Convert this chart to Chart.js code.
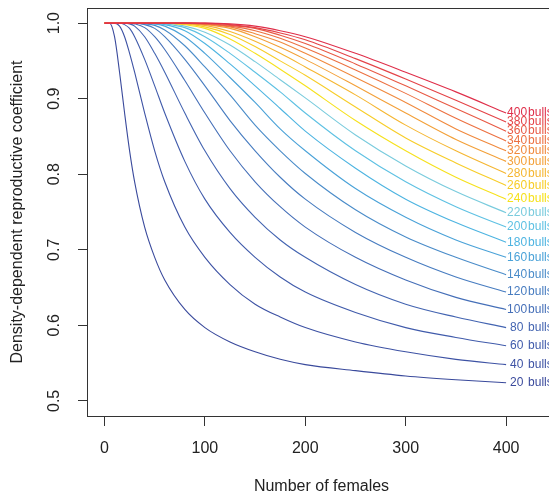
<!DOCTYPE html>
<html>
<head>
<meta charset="utf-8">
<script src="https://cdn.jsdelivr.net/npm/chart.js@4"></script>
<style>
  html, body { margin: 0; padding: 0; overflow: hidden; background: #fff; }
  canvas { display: block; }
</style>
</head>
<body>
<canvas id="graf_bulls" width="556" height="497"></canvas>
<script>
// Numero de hembras (eje x)
var females = [0, 5, 10, 15, 20, 25, 30, 40, 50, 60, 80, 100, 125, 150, 175, 200, 250, 300, 350, 400];

// Coeficiente para cada numero de toros
var coef20  = [1.000, 1.000, 0.982, 0.935, 0.881, 0.831, 0.790, 0.730, 0.690, 0.660, 0.621, 0.597, 0.578, 0.565, 0.555, 0.548, 0.540, 0.533, 0.528, 0.524];
var coef40  = [1.000, 1.000, 1.000, 0.996, 0.982, 0.960, 0.935, 0.881, 0.831, 0.790, 0.730, 0.690, 0.654, 0.628, 0.611, 0.597, 0.578, 0.565, 0.555, 0.548];
var coef60  = [1.000, 1.000, 1.000, 1.000, 0.998, 0.993, 0.982, 0.952, 0.917, 0.881, 0.817, 0.767, 0.723, 0.690, 0.664, 0.644, 0.617, 0.597, 0.584, 0.573];
var coef80  = [1.000, 1.000, 1.000, 1.000, 1.000, 0.999, 0.996, 0.982, 0.960, 0.935, 0.881, 0.831, 0.781, 0.743, 0.713, 0.690, 0.654, 0.628, 0.611, 0.597];
var coef100 = [1.000, 1.000, 1.000, 1.000, 1.000, 1.000, 0.999, 0.994, 0.982, 0.965, 0.924, 0.881, 0.831, 0.790, 0.757, 0.730, 0.690, 0.660, 0.637, 0.621];
var coef120 = [1.000, 1.000, 1.000, 1.000, 1.000, 1.000, 1.000, 0.998, 0.993, 0.982, 0.952, 0.917, 0.871, 0.831, 0.796, 0.767, 0.723, 0.690, 0.664, 0.644];
var coef140 = [1.000, 1.000, 1.000, 1.000, 1.000, 1.000, 1.000, 0.999, 0.997, 0.991, 0.970, 0.942, 0.905, 0.865, 0.831, 0.801, 0.753, 0.717, 0.690, 0.667];
var coef160 = [1.000, 1.000, 1.000, 1.000, 1.000, 1.000, 1.000, 1.000, 0.999, 0.996, 0.982, 0.960, 0.928, 0.895, 0.860, 0.831, 0.781, 0.743, 0.713, 0.690];
var coef180 = [1.000, 1.000, 1.000, 1.000, 1.000, 1.000, 1.000, 1.000, 0.999, 0.998, 0.990, 0.973, 0.946, 0.917, 0.887, 0.857, 0.808, 0.767, 0.736, 0.710];
var coef200 = [1.000, 1.000, 1.000, 1.000, 1.000, 1.000, 1.000, 1.000, 1.000, 0.999, 0.994, 0.982, 0.960, 0.935, 0.909, 0.881, 0.831, 0.790, 0.757, 0.730];
var coef220 = [1.000, 1.000, 1.000, 1.000, 1.000, 1.000, 1.000, 1.000, 1.000, 1.000, 0.996, 0.988, 0.971, 0.949, 0.925, 0.901, 0.852, 0.811, 0.777, 0.749];
var coef240 = [1.000, 1.000, 1.000, 1.000, 1.000, 1.000, 1.000, 1.000, 1.000, 1.000, 0.998, 0.993, 0.979, 0.960, 0.939, 0.917, 0.871, 0.831, 0.796, 0.767];
var coef260 = [1.000, 1.000, 1.000, 1.000, 1.000, 1.000, 1.000, 1.000, 1.000, 1.000, 0.999, 0.995, 0.985, 0.969, 0.950, 0.931, 0.889, 0.848, 0.815, 0.785];
var coef280 = [1.000, 1.000, 1.000, 1.000, 1.000, 1.000, 1.000, 1.000, 1.000, 1.000, 0.999, 0.997, 0.989, 0.976, 0.960, 0.942, 0.905, 0.865, 0.831, 0.801];
var coef300 = [1.000, 1.000, 1.000, 1.000, 1.000, 1.000, 1.000, 1.000, 1.000, 1.000, 1.000, 0.998, 0.993, 0.982, 0.968, 0.952, 0.917, 0.881, 0.846, 0.817];
var coef320 = [1.000, 1.000, 1.000, 1.000, 1.000, 1.000, 1.000, 1.000, 1.000, 1.000, 1.000, 0.999, 0.995, 0.986, 0.975, 0.960, 0.928, 0.895, 0.860, 0.831];
var coef340 = [1.000, 1.000, 1.000, 1.000, 1.000, 1.000, 1.000, 1.000, 1.000, 1.000, 1.000, 0.999, 0.996, 0.990, 0.980, 0.967, 0.938, 0.907, 0.874, 0.844];
var coef360 = [1.000, 1.000, 1.000, 1.000, 1.000, 1.000, 1.000, 1.000, 1.000, 1.000, 1.000, 0.999, 0.997, 0.993, 0.984, 0.973, 0.946, 0.917, 0.887, 0.857];
var coef380 = [1.000, 1.000, 1.000, 1.000, 1.000, 1.000, 1.000, 1.000, 1.000, 1.000, 1.000, 1.000, 0.998, 0.994, 0.987, 0.978, 0.953, 0.926, 0.898, 0.869];
var coef400 = [1.000, 1.000, 1.000, 1.000, 1.000, 1.000, 1.000, 1.000, 1.000, 1.000, 1.000, 1.000, 0.999, 0.996, 0.990, 0.982, 0.960, 0.935, 0.909, 0.881];

var bulls = [20, 40, 60, 80, 100, 120, 140, 160, 180, 200, 220, 240, 260, 280, 300, 320, 340, 360, 380, 400];
var coefs = [coef20, coef40, coef60, coef80, coef100, coef120, coef140, coef160, coef180, coef200,
             coef220, coef240, coef260, coef280, coef300, coef320, coef340, coef360, coef380, coef400];
var lineColors = ['#3a4a9c', '#3d52a4', '#405bab', '#4364b1', '#456fb8', '#477cc0', '#4a8cc9', '#4aa2d8', '#4db4e1', '#5ec1e3',
                  '#79cbdd', '#f6e11c', '#f7cd28', '#f5b631', '#f3a038', '#f0893d', '#ec7041', '#e85944', '#e44347', '#df2e49'];

var xTicks = [0, 100, 200, 300, 400];
var yTicks = [0.5, 0.6, 0.7, 0.8, 0.9, 1.0];

// Armar los datasets (el rojo queda encima)
var datasets = bulls.map(function (b, i) {
  return {
    label: b + ' bulls',
    data: females.map(function (f, j) { return { x: f, y: coefs[i][j] }; }),
    borderColor: lineColors[i],
    borderWidth: 1.1,
    pointRadius: 0,
    fill: false,
    cubicInterpolationMode: 'monotone',
    order: bulls.length - i
  };
});

// Marco de arriba y etiquetas al final de cada curva
var endLabels = {
  id: 'endLabels',
  afterDatasetsDraw: function (chart) {
    var ctx = chart.ctx;
    var area = chart.chartArea;
    ctx.save();
    ctx.strokeStyle = '#333';
    ctx.lineWidth = 1;
    ctx.beginPath();
    ctx.moveTo(area.left, area.top + 0.5);
    ctx.lineTo(area.right, area.top + 0.5);
    ctx.stroke();

    ctx.font = '12px "Liberation Sans", Arial, sans-serif';
    ctx.textBaseline = 'middle';
    chart.data.datasets.forEach(function (ds, i) {
      var meta = chart.getDatasetMeta(i);
      var last = meta.data[meta.data.length - 1];
      var n = String(bulls[i]);
      ctx.fillStyle = ds.borderColor;
      ctx.textAlign = 'left';
      ctx.fillText(n, last.x + (n.length < 3 ? 4 : 1), last.y);
      ctx.fillText('bulls', last.x + 22, last.y);
    });
    ctx.restore();
  }
};

var axisFont = { family: '"Liberation Sans", Arial, sans-serif', size: 16 };

var graf_bulls = new Chart(document.getElementById('graf_bulls').getContext('2d'), {
  type: 'line',
  data: { datasets: datasets },
  options: {
    responsive: false,
    animation: false,
    layout: { padding: { top: 8, right: 0, left: 0, bottom: 0 } },
    plugins: { legend: { display: false }, tooltip: { enabled: false } },
    scales: {
      x: {
        type: 'linear',
        min: -17.43,
        max: 449.7,
        afterBuildTicks: function (scale) { scale.ticks = xTicks.map(function (v) { return { value: v }; }); },
        afterFit: function (scale) { scale.height = 81; scale.paddingLeft = 0; scale.paddingRight = 0; },
        grid: { drawOnChartArea: false, drawTicks: true, tickLength: 10, color: '#333' },
        border: { display: true, color: '#333', width: 1 },
        ticks: { font: axisFont, color: '#222', padding: 13, maxRotation: 0 },
        title: { display: true, text: 'Number of females', font: axisFont, color: '#222', padding: { top: 0, bottom: 1 } }
      },
      y: {
        type: 'linear',
        min: 0.48,
        max: 1.02,
        afterBuildTicks: function (scale) { scale.ticks = yTicks.map(function (v) { return { value: v }; }); },
        afterFit: function (scale) { scale.width = 87; scale.paddingTop = 0; scale.paddingBottom = 0; },
        grid: { drawOnChartArea: false, drawTicks: true, tickLength: 9, color: '#333' },
        border: { display: true, color: '#333', width: 1 },
        ticks: {
          font: axisFont, color: '#222', padding: 12,
          minRotation: 90, maxRotation: 90, crossAlign: 'center',
          callback: function (v) { return v.toFixed(1); }
        },
        title: { display: true, text: 'Density-dependent reproductive coefficient', font: axisFont, color: '#222', padding: { top: 8, bottom: 0 } }
      }
    }
  },
  plugins: [endLabels]
});
</script>
</body>
</html>
